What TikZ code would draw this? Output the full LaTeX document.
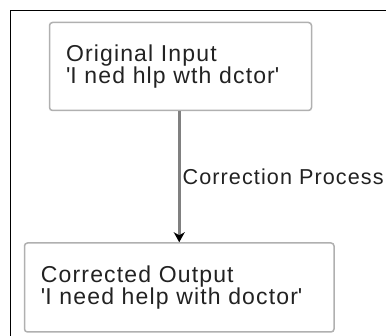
\documentclass[tikz,border=0pt]{standalone}
\usepackage{fontspec}
\setmainfont{Liberation Sans}[LetterSpace=5]
\usetikzlibrary{arrows.meta}
\definecolor{txt}{HTML}{222222}
\definecolor{bord}{HTML}{B0B0B0}
\definecolor{arr}{HTML}{808080}
\newcommand{\sq}{\textquotesingle}
\begin{document}
\begin{tikzpicture}[x=1pt,y=-1pt,
  box/.style={draw=bord,line width=1.5pt,rounded corners=3pt,fill=white,
    text=txt,align=left,inner xsep=16.5pt,inner ysep=0pt,anchor=center,
    font=\fontsize{23pt}{22.5pt}\selectfont},
  lbl/.style={text=txt,inner sep=0pt,font=\fontsize{21.6pt}{22pt}\selectfont}]
\useasboundingbox (0,0) rectangle (386,336);
\fill[white] (0,0) rectangle (386,336);
\draw[black,line width=1pt] (10.5,336) -- (10.5,10.5) -- (386,10.5);
\node[box,minimum width=262pt,minimum height=88pt,text width=229pt] (b1) at (180.5,66.5)
  {Original Input\\\sq I ned hlp wth dctor\sq};
\node[box,minimum width=309.5pt,minimum height=89pt,text width=276.5pt] (b2) at (179.25,287.5)
  {Corrected Output\\\sq I need help with doctor\sq};
\draw[arr,line width=2.5pt,-{Stealth[length=10pt,width=11pt,inset=3pt,color=black]}]
  (b2.north |- b1.south) -- (b2.north);
\node[lbl,anchor=base west] (l) at (182.5,184.3) {Correction Process};
\end{tikzpicture}
\end{document}
